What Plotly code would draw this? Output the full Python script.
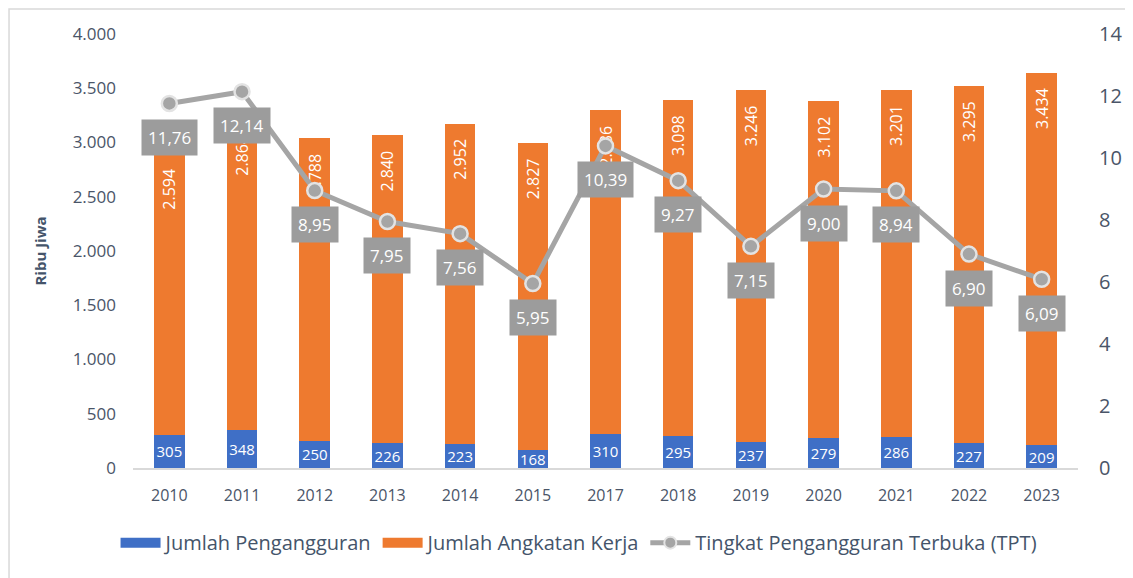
import plotly.graph_objects as go

years = ["2010", "2011", "2012", "2013", "2014", "2015", "2017", "2018", "2019", "2020", "2021", "2022", "2023"]
pengangguran = [305, 348, 250, 226, 223, 168, 310, 295, 237, 279, 286, 227, 209]
angkatan_kerja = [2594, 2864, 2788, 2840, 2952, 2827, 2986, 3098, 3246, 3102, 3201, 3295, 3434]
tpt = [11.76, 12.14, 8.95, 7.95, 7.56, 5.95, 10.39, 9.27, 7.15, 9.00, 8.94, 6.90, 6.09]

FONT = "Open Sans"
TXT = "#4A5568"
BLUE = "#3F6FC6"
ORANGE = "#EE7A2F"

fig = go.Figure()
fig.add_trace(go.Bar(
    x=years, y=pengangguran, name="Jumlah Pengangguran", showlegend=False,
    marker=dict(color=BLUE, line=dict(width=0)),
    width=0.42, texttemplate="%{y:,.0f}", textposition="inside", textangle=0,
    insidetextanchor="middle", constraintext="none",
    textfont=dict(color="white", size=15, family=FONT),
))
fig.add_trace(go.Bar(
    x=years, y=angkatan_kerja, name="Jumlah Angkatan Kerja", showlegend=False,
    marker=dict(color=ORANGE, line=dict(width=0)),
    width=0.42, texttemplate="%{y:,.0f}&nbsp;&nbsp;&nbsp;", textposition="inside",
    insidetextanchor="end", textangle=-90, constraintext="none",
    textfont=dict(color="white", size=16, family=FONT),
))
fig.add_trace(go.Scatter(
    x=years, y=tpt, name="Tingkat Pengangguran Terbuka (TPT)", yaxis="y2",
    mode="lines+markers", showlegend=False,
    line=dict(color="#A5A5A5", width=5),
    marker=dict(size=15, color="#A5A5A5", line=dict(color="#E3E3E3", width=2.5)),
))
# legend entries
for nm, col in [("Jumlah Pengangguran", BLUE), ("Jumlah Angkatan Kerja", ORANGE)]:
    fig.add_trace(go.Scatter(x=[None], y=[None], name=nm, mode="lines",
                             line=dict(color=col, width=14)))
fig.add_trace(go.Scatter(x=[None], y=[None], name="Tingkat Pengangguran Terbuka (TPT)",
                         mode="lines+markers", line=dict(color="#A5A5A5", width=5),
                         marker=dict(size=12, color="#A5A5A5", line=dict(color="#E3E3E3", width=2))))

for i, v in enumerate(tpt):
    fig.add_annotation(
        x=i, y=v, xref="x", yref="y2", yshift=-34,
        text=f"{v:.2f}".replace(".", ","), showarrow=False,
        bgcolor="#9C9C9C", borderpad=6,
        font=dict(color="white", size=17, family=FONT),
    )

fig.add_shape(type="rect", xref="paper", yref="paper",
              x0=-0.1312, x1=1.06, y0=-0.3, y1=1.0576,
              line=dict(color="#D9D9D9", width=1.5), fillcolor="rgba(0,0,0,0)")

fig.update_layout(
    width=1125, height=570,
    margin=dict(l=125, r=55, t=26, b=110),
    barmode="stack",
    separators=",.",
    plot_bgcolor="white", paper_bgcolor="white",
    font=dict(family=FONT, color=TXT, size=16),
    showlegend=True,
    legend=dict(orientation="h", x=0.472, xanchor="center", y=-0.172, yanchor="middle",
                font=dict(size=20, color="#44546A", family=FONT), traceorder="normal",
                itemwidth=40, itemsizing="trace"),
    xaxis=dict(type="category", range=[-0.5, 12.5], showgrid=False, showline=True,
               linecolor="#D9D9D9", linewidth=1.5,
               ticks="", tickfont=dict(size=16, color=TXT), ticklabelstandoff=12),
    yaxis=dict(range=[0, 4000], dtick=500, tickformat=",.0f", showgrid=False, zeroline=False,
               tickfont=dict(size=17, color=TXT), ticklabelstandoff=16,
               title=dict(text="<b>Ribu Jiwa</b>", font=dict(size=15, color="#44546A"), standoff=22)),
    yaxis2=dict(range=[0, 14], dtick=2, overlaying="y", side="right", showgrid=False, zeroline=False,
                tickfont=dict(size=20, color=TXT), ticklabelstandoff=20),
)

fig.write_html("out.html")
